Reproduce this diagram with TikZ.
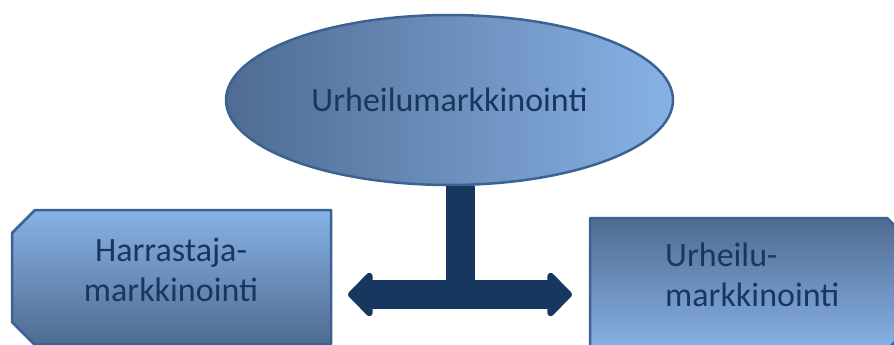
\documentclass[tikz,border=0pt]{standalone}
\usepackage{fontspec}
\setmainfont{Carlito}
\usetikzlibrary{shapes.geometric,arrows.meta}
\definecolor{navy}{HTML}{17375E}
\definecolor{edgeblue}{HTML}{3B6391}
\definecolor{darkfill}{HTML}{4F6B91}
\definecolor{lightfill}{HTML}{88B2E6}
\newcommand{\diafont}{\fontsize{34}{40}\selectfont}
\begin{document}
\begin{tikzpicture}[x=1pt,y=-1pt,
    blob/.style={ellipse,draw=edgeblue,line width=2.5pt,left color=darkfill,right color=lightfill,
        minimum width=447pt,minimum height=170pt,text=navy,font=\diafont},
    panel/.style={draw=edgeblue,line width=2.5pt,line join=round},
    boxtext/.style={inner sep=0pt,text=navy,font=\diafont},
    tee/.style={draw=navy,line width=29pt},
    bigtip/.tip={Triangle[length=26pt,width=51pt,round]}]
    \useasboundingbox (0,0) rectangle (894,345);
    \clip (0,0) rectangle (894,345);

    % boxes
    \shade[panel,top color=lightfill,bottom color=darkfill]
        (35,210) -- (331,210) -- (331,344) -- (34,344) -- (12,322) -- (12,233) -- cycle;
    \shade[panel,top color=darkfill,bottom color=lightfill]
        (590,218) -- (887,218) -- (896,227) -- (896,341) -- (887,350) -- (590,350) -- cycle;
    \node[boxtext,align=center] (harr) at (171,270) {Harrastaja-\\markkinointi};
    \node[boxtext,align=left,anchor=west] (urh) at (665,275) {Urheilu-\\markkinointi};

    \node[blob] (ell) at (449.5,100) {Urheilumarkkinointi};

    % T arrow
    \coordinate (mid) at (460.5,294.5);
    \coordinate (ltip) at (348,294.5);
    \coordinate (rtip) at (572,294.5);
    \draw[tee] (mid |- ell.south) -- (mid);
    \draw[tee,bigtip-bigtip] (ltip) -- (rtip);
\end{tikzpicture}
\end{document}
